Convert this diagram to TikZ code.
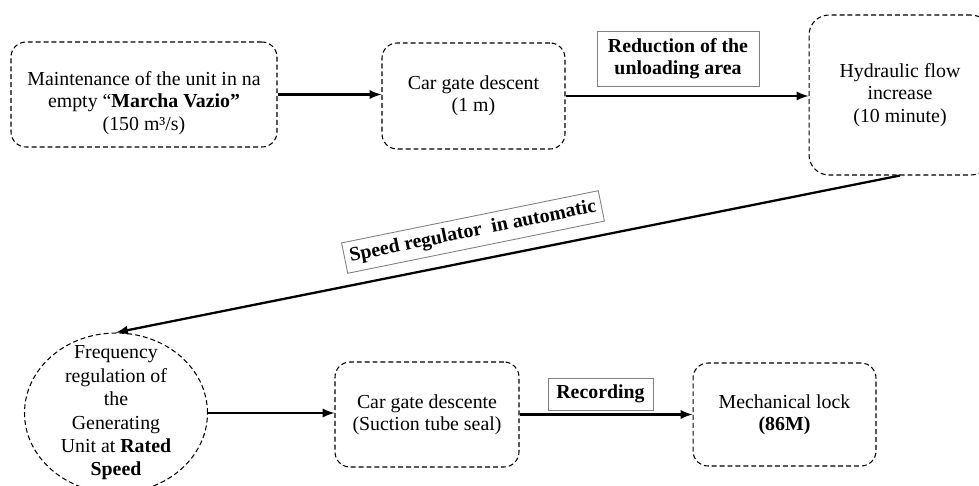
\documentclass[tikz,border=0pt]{standalone}
\usepackage{fontspec}
\setmainfont{Liberation Serif}
\usetikzlibrary{arrows}
\usetikzlibrary{shapes.geometric}

\begin{document}
\begin{tikzpicture}[x=0.02cm, y=-0.02cm, font=\fontsize{11.3}{12.6}\selectfont,
    link/.style={draw, -latex, line width=1.3pt}]
\tikzset{
        stage/.style={draw, dash pattern=on 2.8pt off 1.7pt, line width=0.6pt, rounded corners=0.3cm, align=center, inner sep=1pt},
        round stage/.style={draw, ellipse, dash pattern=on 2.8pt off 1.7pt, line width=0.6pt, inner sep=0pt},
        note/.style={draw=gray, line width=0.5pt, align=center, inner sep=1pt, font=\fontsize{11.3}{12.6}\selectfont\bfseries},
    }
  \useasboundingbox (0,0) rectangle (979,486);
  \node[stage, minimum width=5.32cm, minimum height=2.1cm] (maint) at (144,94.5) {};
  \node[align=center] (mainttext) at ([yshift=-0.17cm]maint.center)
    {Maintenance of the unit in na\\empty “\textbf{Marcha Vazio”}\\(150 m³/s)};
  \node[stage, minimum width=3.66cm, minimum height=2.12cm] (gate) at (473.5,96)
    {Car gate descent\\(1 m)};
  \node[stage, rounded corners=0.4cm, minimum width=3.64cm, minimum height=3.2cm] (flow) at (900,95)
    {Hydraulic flow\\increase\\(10 minute)};
  \node[note, minimum width=3.24cm, minimum height=1.1cm] (reduction) at (678,58.5)
    {Reduction of the\\unloading area};
  \node[round stage, minimum width=3.66cm, minimum height=3.2cm] (freq) at (116,413) {};
  \node[align=center, font=\fontsize{11.3}{13.3}\selectfont] (freqtext) at (freq.center)
    {Frequency\\regulation of\\the\\Generating\\Unit at \textbf{Rated}\\\textbf{Speed}};
  \node[note, rotate=11.5, minimum width=5.24cm, minimum height=0.62cm] (speed) at (473,232)
    {Speed regulator\ \ in automatic};
  \node[stage, minimum width=3.68cm, minimum height=2.1cm] (descente) at (427,414.5)
    {Car gate descente\\(Suction tube seal)};
  \node[note, minimum width=2.1cm, minimum height=0.64cm] (recording) at (600.5,394)
    {Recording};
  \node[stage, minimum width=3.66cm, minimum height=2.06cm] (lock) at (784.5,414.5)
    {Mechanical lock\\\textbf{(86M)}};

  \draw[link] (maint.east) -- (maint.east -| gate.west);
  \draw[link] (gate.east) -- (gate.east -| flow.west);
  \draw[link] (flow.south) -- (freq.north);
  \draw[link] (freq.east) -- (freq.east -| descente.west);
  \draw[link] (descente.east) -- (descente.east -| lock.west);
\end{tikzpicture}
\end{document}
